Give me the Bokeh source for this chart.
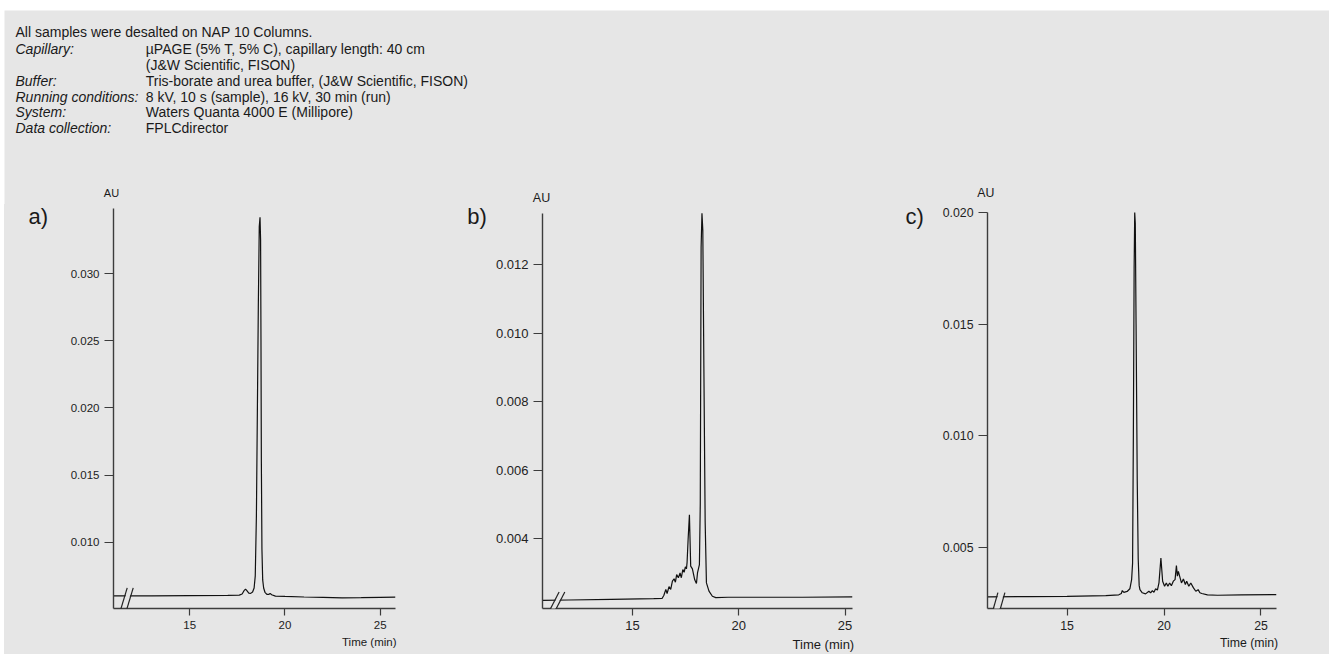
from bokeh.plotting import figure
from bokeh.models import (Range1d, FixedTicker, PrintfTickFormatter, Title, Arrow,
                          PolyAnnotation, Spacer)
from bokeh.layouts import column, row
from bokeh.core.properties import value
from bokeh.embed import file_html
from bokeh.resources import INLINE

BG = "#e6e6e6"
FONT = "Liberation Sans"
INK = "#1a1a1a"
AXC = "#3c3c3c"

# ---------------- header text ----------------
header_first = "All samples were desalted on NAP 10 Columns."
header_keys = ["Capillary:", "", "Buffer:", "Running conditions:", "System:", "Data collection:"]
header_vals = ["\u00b5PAGE (5% T, 5% C), capillary length: 40 cm",
               "(J&W Scientific, FISON)",
               "Tris-borate and urea buffer, (J&W Scientific, FISON)",
               "8 kV, 10 s (sample), 16 kV, 30 min (run)",
               "Waters Quanta 4000 E (Millipore)",
               "FPLCdirector"]

# ---------------- data ----------------
time_a = [11.0, 13.0, 15.0, 17.0, 17.6, 17.75, 17.85, 17.93, 18.0, 18.1, 18.2, 18.3, 18.38,
          18.44, 18.50, 18.55, 18.60, 18.65, 18.69, 18.72, 18.74, 18.76, 18.79, 18.83, 18.88,
          18.95, 19.05, 19.15, 19.22, 19.3, 19.5, 20.0, 21.0, 22.0, 23.0, 24.0, 25.0, 25.8]
au_a = [0.00602, 0.00602, 0.00603, 0.00605, 0.00607, 0.00615, 0.00640, 0.00652, 0.00640,
        0.00622, 0.00620, 0.00630, 0.00660, 0.0075, 0.0120, 0.0197, 0.0275, 0.0335, 0.0342,
        0.0325, 0.0250, 0.0160, 0.0095, 0.0072, 0.0066, 0.00628, 0.00612, 0.00612, 0.00620,
        0.00610, 0.00600, 0.00597, 0.00593, 0.00590, 0.00587, 0.00588, 0.00590, 0.00592]

time_b = [10.77, 12.0, 14.0, 16.0, 16.40, 16.48, 16.57, 16.63, 16.72, 16.80, 16.88, 16.96,
          17.02, 17.08, 17.16, 17.24, 17.30, 17.37, 17.43, 17.49, 17.54, 17.57, 17.62, 17.68,
          17.74, 17.82, 17.93, 18.01, 18.06, 18.15, 18.19, 18.23, 18.27, 18.31, 18.36, 18.42,
          18.48, 18.60, 18.76, 18.92, 19.5, 21.0, 23.0, 25.35]
au_b = [0.00220, 0.00221, 0.00223, 0.00225, 0.00226, 0.00235, 0.00252, 0.00240, 0.00260,
        0.00252, 0.00276, 0.00283, 0.00273, 0.00295, 0.00286, 0.00300, 0.00286, 0.00310,
        0.00302, 0.00318, 0.00312, 0.00331, 0.00400, 0.00470, 0.00320, 0.00312, 0.00280,
        0.00269, 0.00300, 0.00324, 0.00500, 0.01250, 0.01350, 0.01300, 0.00900, 0.00450,
        0.00271, 0.00247, 0.00232, 0.00228, 0.00229, 0.00229, 0.00229, 0.00230]

time_c = [10.9, 13.0, 15.0, 17.0, 17.67, 17.80, 17.85, 17.93, 18.10, 18.24, 18.33, 18.38,
          18.42, 18.46, 18.49, 18.52, 18.56, 18.62, 18.67, 18.72, 18.76, 18.88, 19.05, 19.22,
          19.31, 19.40, 19.48, 19.57, 19.66, 19.74, 19.84, 19.93, 20.03, 20.12, 20.20, 20.29,
          20.38, 20.48, 20.57, 20.64, 20.69, 20.74, 20.83, 20.90, 21.00, 21.10, 21.17, 21.28,
          21.38, 21.52, 21.64, 21.76, 21.85, 21.95, 22.24, 22.76, 24.0, 25.8]
au_c = [0.00280, 0.00281, 0.00282, 0.00285, 0.00289, 0.00295, 0.00308, 0.00300, 0.00304,
        0.00316, 0.00357, 0.00430, 0.01000, 0.01750, 0.02000, 0.01950, 0.01500, 0.00800,
        0.00450, 0.00330, 0.00312, 0.00298, 0.00293, 0.00305, 0.00298, 0.00308, 0.00300,
        0.00316, 0.00310, 0.00342, 0.00454, 0.00350, 0.00327, 0.00342, 0.00327, 0.00342,
        0.00330, 0.00350, 0.00357, 0.00420, 0.00372, 0.00394, 0.00365, 0.00342, 0.00360,
        0.00335, 0.00350, 0.00327, 0.00342, 0.00320, 0.00305, 0.00312, 0.00298, 0.00295,
        0.00289, 0.00287, 0.00289, 0.00290]

panel_tags = ["a)", "b)", "c)"]
y_unit = "AU"
x_title = "Time (min)"
x_ticks = [15, 20, 25]
y_ticks_a = [0.010, 0.015, 0.020, 0.025, 0.030]
y_ticks_b = [0.004, 0.006, 0.008, 0.010, 0.012]
y_ticks_c = [0.005, 0.010, 0.015, 0.020]
y_axis_top = [0.03485, 0.0135, 0.0200]   # where each AU axis line ends

HDR_H = 204
PANEL_H = 654 - HDR_H
TOP_B = 0
BOT_B = 45

# ---------------- header (notes + axis unit labels) ----------------
hdr = figure(width=1329, height=HDR_H, x_range=Range1d(0, 1325), y_range=Range1d(HDR_H - 10, 0),
             x_axis_type=None, y_axis_type=None, output_backend="svg", toolbar_location=None,
             title=None,
             min_border_left=4, min_border_top=10, min_border_right=0, min_border_bottom=0,
             background_fill_color=BG, border_fill_color="white", outline_line_color=None)
line_y = [38.3, 54.3, 70.0, 86.0, 101.7, 117.7]
hdr.text(x=[11], y=[21.7], text=[header_first], text_font=value(FONT), text_font_size="14px",
         text_baseline="middle", text_color=INK)
hdr.text(x=[11] * len(header_keys), y=line_y, text=header_keys, text_font=value(FONT),
         text_font_size="14px", text_font_style="italic", text_baseline="middle", text_color=INK)
hdr.text(x=[141.3] * len(header_vals), y=line_y, text=header_vals, text_font=value(FONT),
         text_font_size="14px", text_baseline="middle", text_color=INK)
# "AU" unit labels above the three y axes
hdr.text(x=[107.0], y=[182.7], text=[y_unit], text_font=value(FONT), text_font_size="11px",
         text_baseline="middle", text_align="center", text_color=INK)
hdr.text(x=[537.0], y=[187.0], text=[y_unit], text_font=value(FONT), text_font_size="12.5px",
         text_baseline="middle", text_align="center", text_color=INK)
hdr.text(x=[981.3], y=[182.7], text=[y_unit], text_font=value(FONT), text_font_size="12.3px",
         text_baseline="middle", text_align="center", text_color=INK)


def tag_fig(width, tag, tx, ty):
    fh = PANEL_H - TOP_B - BOT_B
    t = figure(width=width, height=PANEL_H, x_range=Range1d(0, width),
               y_range=Range1d(fh, 0), x_axis_type=None, y_axis_type=None,
               output_backend="svg", toolbar_location=None, title=None,
               min_border_left=0, min_border_right=0, min_border_top=TOP_B,
               min_border_bottom=BOT_B,
               background_fill_color=BG, border_fill_color=BG, outline_line_color=None)
    t.text(x=[tx], y=[ty], text=[tag], text_font=value(FONT), text_font_size="22px",
           text_baseline="middle", text_align="left", text_color=INK)
    return t


def panel(width, left, right, xr, yr, ytop, yticks, xs, ys, fs,
          time_off, time_stand, brk, gap_full):
    p = figure(width=width, height=PANEL_H, x_range=Range1d(*xr), y_range=Range1d(*yr),
               output_backend="svg", toolbar_location=None, title=None,
               min_border_left=left, min_border_right=right, min_border_top=TOP_B,
               min_border_bottom=BOT_B, background_fill_color=BG, border_fill_color=BG,
               outline_line_color=None)
    p.grid.visible = False
    fw = width - left - right
    fh = PANEL_H - TOP_B - BOT_B

    def px2x(d):
        return xr[0] + d * (xr[1] - xr[0]) / fw

    def px2y(d):
        return yr[0] + d * (yr[1] - yr[0]) / fh

    for ax in (p.xaxis[0], p.yaxis[0]):
        ax.axis_line_color = AXC
        ax.axis_line_width = 1.4
        ax.major_tick_line_color = AXC
        ax.major_tick_line_width = 1.2
        ax.major_tick_in = 0
        ax.minor_tick_line_color = None
        ax.major_label_text_font = FONT
        ax.major_label_text_font_size = fs
        ax.major_label_text_color = "#222222"
    p.xaxis[0].ticker = FixedTicker(ticks=x_ticks)
    p.xaxis[0].formatter = PrintfTickFormatter(format="%d")
    p.xaxis[0].major_tick_out = 7
    p.yaxis[0].ticker = FixedTicker(ticks=yticks)
    p.yaxis[0].formatter = PrintfTickFormatter(format="%.3f")
    p.yaxis[0].major_tick_out = 9
    p.yaxis[0].bounds = (yr[0], ytop)

    p.line(xs, ys, line_color="#111111", line_width=1.2)

    # axis break marks
    (bx, by0, by1, slant, sep) = brk
    if gap_full:
        g0, g1 = by0, by1
    else:
        g0, g1 = by0 + (by1 - by0) * 0.45, by1

    def sx(yy):
        return bx + slant * (yy - by0) / (by1 - by0)
    p.add_layout(PolyAnnotation(
        xs=[px2x(sx(g0) + 0.8), px2x(sx(g0) + sep - 0.8), px2x(sx(g1) + sep - 0.8), px2x(sx(g1) + 0.8)],
        ys=[px2y(g0), px2y(g0), px2y(g1), px2y(g1)],
        fill_color=BG, fill_alpha=1.0, line_color=None, level="overlay"))
    for k in (0, sep):
        p.add_layout(Arrow(end=None, x_start=px2x(bx + k), y_start=px2y(by0),
                           x_end=px2x(bx + slant + k), y_end=px2y(by1),
                           line_color="#222222", line_width=1.2, level="overlay"))

    p.add_layout(Title(text=x_title, align="right", offset=time_off, standoff=time_stand,
                       text_font=FONT, text_font_size=fs, text_font_style="normal",
                       text_color=INK), "below")
    return p


ta = tag_fig(56, panel_tags[0], 24, 12.5)
pa = panel(380, 53, 45, (11.0, 25.8), (0.005074, 0.035149), y_axis_top[0], y_ticks_a,
           time_a, au_a, "11.5px", -1, 5, (3.7, -12.7, 20.7, 10.0, 6.0), False)
tb = tag_fig(50, panel_tags[1], 26.7, 12.5)
pb = panel(390, 52, 28, (10.77, 25.35), (0.001962, 0.013755), y_axis_top[1], y_ticks_b,
           time_b, au_b, "13px", -1.7, 5, (4.3, -7.4, 16.6, 12.3, 5.7), True)
tc = tag_fig(52, panel_tags[2], 25, 12.5)
pc = panel(397, 55, 53, (10.9, 25.8), (0.002277, 0.020357), y_axis_top[2], y_ticks_c,
           time_c, au_c, "12.3px", -1.7, 2, (5.0, -3.3, 16.0, 5.4, 7.0), True)

left_pad = Spacer(width=4, height=PANEL_H, styles={"background-color": "white"})
layout = column(hdr, row(left_pad, ta, pa, tb, pb, tc, pc, spacing=0,
                         styles={"background-color": BG}),
                spacing=0)

open("out.html", "w").write(file_html(layout, INLINE))
